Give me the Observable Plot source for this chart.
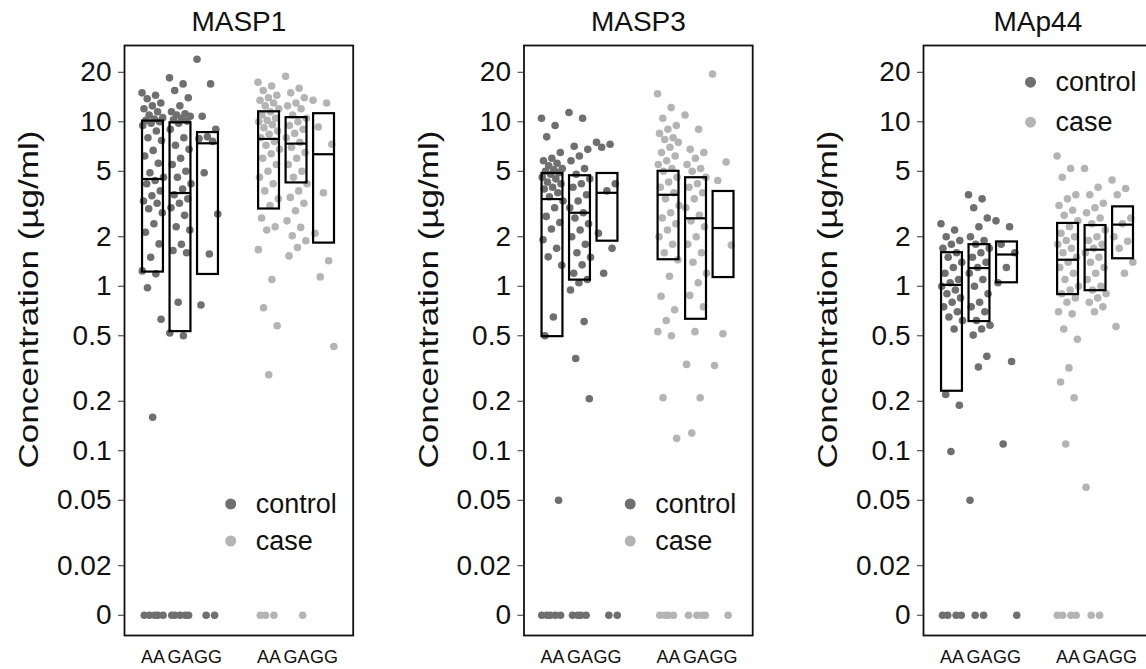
<!DOCTYPE html>
<html><head><meta charset="utf-8">
<script src="https://cdn.jsdelivr.net/npm/d3@7"></script>
<script src="https://cdn.jsdelivr.net/npm/@observablehq/plot@0.6"></script>
<style>
html,body{margin:0;padding:0;background:#fff;overflow:hidden;}
#wrap{position:relative;width:1146px;height:669px;overflow:hidden;background:#fff;}
#wrap svg{position:absolute;top:0;overflow:visible;}
</style></head><body><div id="wrap"></div>
<script>
// ---------- data ----------
const genotypes = ["AA", "GA", "GG"];
const statuses = ["control", "case"];
const statusColors = ["#6f6f6f", "#b4b4b4"];
const yTickValues = [0.01, 0.02, 0.05, 0.1, 0.2, 0.5, 1, 2, 5, 10, 20];
const yTickLabels = ["0", "0.02", "0.05", "0.1", "0.2", "0.5", "1", "2", "5", "10", "20"];
const zeroAt = 0.01; // where a value of 0 is drawn on the log axis
const yLabel = "Concentration (\u00b5g/ml)";

// MASP1
const masp1ControlAA = [15.0, 14.5, 13.8, 13.0, 12.5, 12.0, 11.5, 11.0, 10.6, 10.4, 10.2, 10.0, 9.8, 9.5, 8.8, 8.0, 7.7, 6.7, 6.2, 5.6, 4.9, 4.6, 4.4, 4.2, 3.8, 3.55, 3.3, 3.2, 2.96, 2.8, 2.4, 2.13, 1.81, 1.5, 1.24, 1.19, 0.98, 0.63, 0.16, 0, 0, 0, 0, 0];
const masp1ControlGA = [18.5, 17.0, 15.5, 14.0, 12.5, 11.5, 11.2, 11.0, 10.8, 10.5, 10.3, 10.1, 9.8, 9.0, 8.0, 7.2, 6.8, 6.0, 5.5, 5.0, 4.6, 4.2, 3.9, 3.6, 3.4, 3.2, 3.0, 2.7, 2.3, 2.2, 1.8, 1.65, 1.6, 0.8, 0.52, 0.5, 0, 0, 0, 0, 0];
const masp1ControlGG = [24.0, 17.0, 10.8, 9.0, 8.1, 7.9, 7.6, 4.9, 2.75, 1.57, 0.77, 0, 0];
const masp1CaseAA = [17.4, 16.5, 15.5, 14.5, 14.0, 13.5, 13.0, 12.5, 12.0, 11.5, 11.0, 10.5, 10.2, 10.0, 9.6, 9.2, 8.8, 8.4, 8.0, 7.6, 7.2, 6.8, 6.4, 6.0, 5.5, 5.0, 4.6, 4.2, 3.8, 3.4, 3.1, 2.6, 2.3, 2.2, 1.67, 1.1, 0.74, 0.575, 0.29, 0, 0, 0];
const masp1CaseGA = [18.9, 16.0, 15.0, 14.0, 13.0, 12.5, 12.0, 11.0, 10.5, 10.0, 9.5, 9.0, 8.5, 8.0, 7.5, 7.0, 6.5, 6.0, 5.5, 5.0, 4.6, 4.2, 3.8, 3.47, 3.2, 2.88, 2.5, 2.28, 2.03, 1.89, 1.72, 1.53, 0];
const masp1CaseGG = [13.5, 13.0, 9.3, 7.3, 3.7, 2.1, 1.43, 1.14, 0.43];
const masp1Q1 = [1.22, 0.53, 1.18, 2.95, 4.25, 1.83];
const masp1Median = [4.49, 3.69, 7.4, 7.87, 7.37, 6.35];
const masp1Q3 = [10.1, 9.86, 8.6, 11.5, 10.6, 11.2];

// MASP3
const masp3ControlAA = [10.5, 9.5, 8.1, 6.5, 6.0, 5.8, 5.6, 5.4, 5.2, 5.1, 5.0, 4.9, 4.8, 4.6, 4.5, 4.3, 4.2, 4.0, 3.9, 3.7, 3.5, 3.3, 3.0, 2.66, 2.44, 2.23, 1.92, 1.7, 1.51, 1.34, 0.65, 0.5, 0.05, 0, 0, 0, 0, 0];
const masp3ControlGA = [11.4, 10.5, 7.1, 6.8, 6.2, 5.8, 5.2, 4.8, 4.5, 4.2, 4.0, 3.6, 3.3, 3.0, 2.8, 2.6, 2.4, 2.2, 2.0, 1.8, 1.6, 1.5, 1.35, 1.2, 1.1, 1.05, 0.95, 0.61, 0.364, 0.207, 0, 0, 0, 0];
const masp3ControlGG = [7.5, 7.3, 7.0, 4.2, 3.8, 2.1, 1.7, 1.2, 0, 0];
const masp3CaseAA = [14.8, 12.2, 10.5, 9.5, 9.0, 8.5, 8.0, 7.8, 7.5, 7.0, 6.5, 6.2, 5.8, 5.5, 5.2, 5.0, 4.6, 4.3, 4.0, 3.7, 3.4, 3.1, 2.8, 2.6, 2.4, 2.2, 2.0, 1.8, 1.6, 1.45, 1.15, 0.87, 0.72, 0.62, 0.53, 0.5, 0.21, 0.119, 0, 0, 0, 0];
const masp3CaseGA = [11.0, 9.0, 6.8, 6.5, 6.0, 5.5, 5.2, 5.0, 4.6, 4.2, 4.0, 3.7, 3.4, 3.0, 2.7, 2.5, 2.3, 2.0, 1.8, 1.6, 1.4, 1.2, 1.05, 0.88, 0.75, 0.53, 0.335, 0.21, 0.128, 0, 0, 0, 0];
const masp3CaseGG = [19.5, 5.7, 4.4, 1.78, 0.515, 0.33, 0];
const masp3Q1 = [0.494, 1.09, 1.88, 1.45, 0.63, 1.13];
const masp3Median = [3.39, 2.8, 3.7, 3.6, 2.59, 2.26];
const masp3Q3 = [4.85, 4.7, 4.85, 5.0, 4.57, 3.77];

// MAp44
const map44ControlAA = [2.4, 2.2, 2.0, 1.9, 1.8, 1.7, 1.6, 1.5, 1.4, 1.3, 1.2, 1.1, 1.05, 1.0, 0.95, 0.9, 0.85, 0.8, 0.75, 0.7, 0.65, 0.62, 0.55, 0.22, 0.189, 0.099, 0, 0, 0, 0];
const map44ControlGA = [3.6, 3.4, 3.0, 2.6, 2.3, 2.0, 1.9, 1.8, 1.7, 1.6, 1.5, 1.4, 1.3, 1.2, 1.1, 1.0, 0.9, 0.8, 0.75, 0.7, 0.62, 0.58, 0.55, 0.505, 0.375, 0.323, 0.05, 0, 0];
const map44ControlGG = [2.5, 2.3, 1.8, 1.6, 1.3, 1.05, 0.349, 0.11, 0];
const map44CaseAA = [6.2, 5.2, 4.6, 3.6, 3.4, 3.1, 2.9, 2.7, 2.5, 2.3, 2.1, 2.0, 1.9, 1.8, 1.7, 1.6, 1.5, 1.4, 1.3, 1.2, 1.1, 1.0, 0.95, 0.9, 0.85, 0.8, 0.7, 0.68, 0.55, 0.476, 0.319, 0.262, 0.21, 0.11, 0, 0, 0, 0];
const map44CaseGA = [5.2, 4.0, 3.6, 3.2, 3.0, 2.8, 2.6, 2.4, 2.2, 2.0, 1.9, 1.8, 1.7, 1.6, 1.5, 1.4, 1.3, 1.2, 1.1, 1.0, 0.95, 0.9, 0.85, 0.8, 0.75, 0.7, 0.06, 0, 0];
const map44CaseGG = [4.43, 3.93, 3.6, 2.6, 2.4, 2.0, 1.88, 1.7, 1.4, 1.2, 0.57];
const map44Q1 = [0.23, 0.61, 1.05, 0.89, 0.94, 1.47];
const map44Median = [1.02, 1.29, 1.56, 1.45, 1.67, 2.37];
const map44Q3 = [1.6, 1.79, 1.86, 2.41, 2.34, 3.04];

// ---------- layout ----------
const FONT = "'Liberation Sans', Arial, Helvetica, sans-serif";
const NARROW = "'Liberation Sans Narrow', 'Arial Narrow', 'Liberation Sans', sans-serif";
const slot = (s, g) => s * 4.22 + g; // horizontal slot index for status s, genotype g
const slots = [];
statuses.forEach((s, si) => genotypes.forEach((g, gi) => slots.push({status: s, genotype: g, si, gi, pos: slot(si, gi)})));
const slotLabel = new Map(slots.map(d => [d.pos, d.genotype]));
const jitter = i => (((i * 0.6180339887) % 1) - 0.5) * 0.8;

const panels = [
  {title: "MASP1", left: 0, width: 382, marginLeft: 124,
   groups: [masp1ControlAA, masp1ControlGA, masp1ControlGG, masp1CaseAA, masp1CaseGA, masp1CaseGG],
   q1: masp1Q1, med: masp1Median, q3: masp1Q3, legend: "bottom"},
  {title: "MASP3", left: 382, width: 382, marginLeft: 141.5,
   groups: [masp3ControlAA, masp3ControlGA, masp3ControlGG, masp3CaseAA, masp3CaseGA, masp3CaseGG],
   q1: masp3Q1, med: masp3Median, q3: masp3Q3, legend: "bottom"},
  {title: "MAp44", left: 764, width: 392, marginLeft: 159,
   groups: [map44ControlAA, map44ControlGA, map44ControlGG, map44CaseAA, map44CaseGA, map44CaseGG],
   q1: map44Q1, med: map44Median, q3: map44Q3, legend: "top"}
];

const frameW = 228.7;
const wrap = document.getElementById("wrap");

for (const p of panels) {
  const dots = [];
  p.groups.forEach((vals, k) => {
    vals.forEach((v, i) => dots.push({status: slots[k].status, si: slots[k].si, pos: slots[k].pos, v, i}));
  });
  const boxes = slots.map((s, k) => ({...s, q1: p.q1[k], med: p.med[k], q3: p.q3[k]}));

  const legendMarks = [];
  statuses.forEach((s, k) => {
    let anchor, dxDot, dxText, dy;
    if (p.legend === "bottom") { anchor = "bottom-right"; dxDot = -122.5; dxText = -97.5; dy = -131.5 + k * 37; }
    else { anchor = "top-left"; dxDot = 107; dxText = 132; dy = 36.7 + k * 40; }
    legendMarks.push(Plot.dot([s], {frameAnchor: anchor, dx: dxDot, dy, r: 5.5, fill: statusColors[k], stroke: "none"}));
    legendMarks.push(Plot.text([s], {frameAnchor: anchor, dx: dxText, dy, text: d => d, textAnchor: "start", lineAnchor: "middle", fontSize: 27, fill: "#111"}));
  });

  const chart = Plot.plot({
    width: p.width, height: 669,
    marginLeft: p.marginLeft, marginRight: p.width - p.marginLeft - frameW,
    marginTop: 45, marginBottom: 34,
    style: {fontFamily: FONT, background: "transparent", color: "#000"},
    x: {type: "linear", domain: [-1.036, 7.28]},
    y: {type: "log", domain: [0.00753, 29.1], axis: null},
    marks: [
      Plot.dot(dots, {x: d => d.pos + jitter(d.i), y: d => d.v === 0 ? zeroAt : d.v, r: 3.8,
        fill: d => statusColors[d.si], stroke: "none"}),
      Plot.rect(boxes, {x1: d => d.pos - 0.38, x2: d => d.pos + 0.38, y1: "q1", y2: "q3",
        fill: "none", stroke: "#000", strokeWidth: 2.2}),
      Plot.ruleY(boxes, {y: "med", x1: d => d.pos - 0.38, x2: d => d.pos + 0.38, stroke: "#000", strokeWidth: 2.2}),
      Plot.frame({stroke: "#111", strokeWidth: 1.8}),
      // y ticks and labels
      Plot.tickY(yTickValues, {y: d => d, insetLeft: -6, insetRight: frameW, stroke: "#333", strokeWidth: 1}),
      Plot.text(yTickValues, {y: d => d, text: (d, i) => yTickLabels[i], frameAnchor: "left", dx: -13,
        textAnchor: "end", lineAnchor: "middle", fontSize: 28, fill: "#111"}),
      // x genotype labels
      Plot.axisX({ticks: slots.map(d => d.pos), tickFormat: d => slotLabel.get(d),
        tickSize: 0, tickPadding: 15, fontSize: 18, fontFamily: NARROW, label: null, fill: "#111"}),
      Plot.text([p.title], {frameAnchor: "top", dy: -23, lineAnchor: "middle", fontSize: 28, fill: "#111"}),
      Plot.text([yLabel], {frameAnchor: "left", dx: -95, dy: -41, rotate: -90, fontSize: 27,
        textAnchor: "middle", lineAnchor: "middle", fill: "#111"}),
      ...legendMarks
    ]
  });
  // stretch the rotated y label along its length, as in the reference
  d3.select(chart).selectAll("text").filter(function() { return this.textContent === yLabel; })
    .attr("transform", function() { return (this.getAttribute("transform") || "") + " scale(1.3,1)"; });
  chart.style.left = p.left + "px";
  wrap.appendChild(chart);
}
</script></body></html>
